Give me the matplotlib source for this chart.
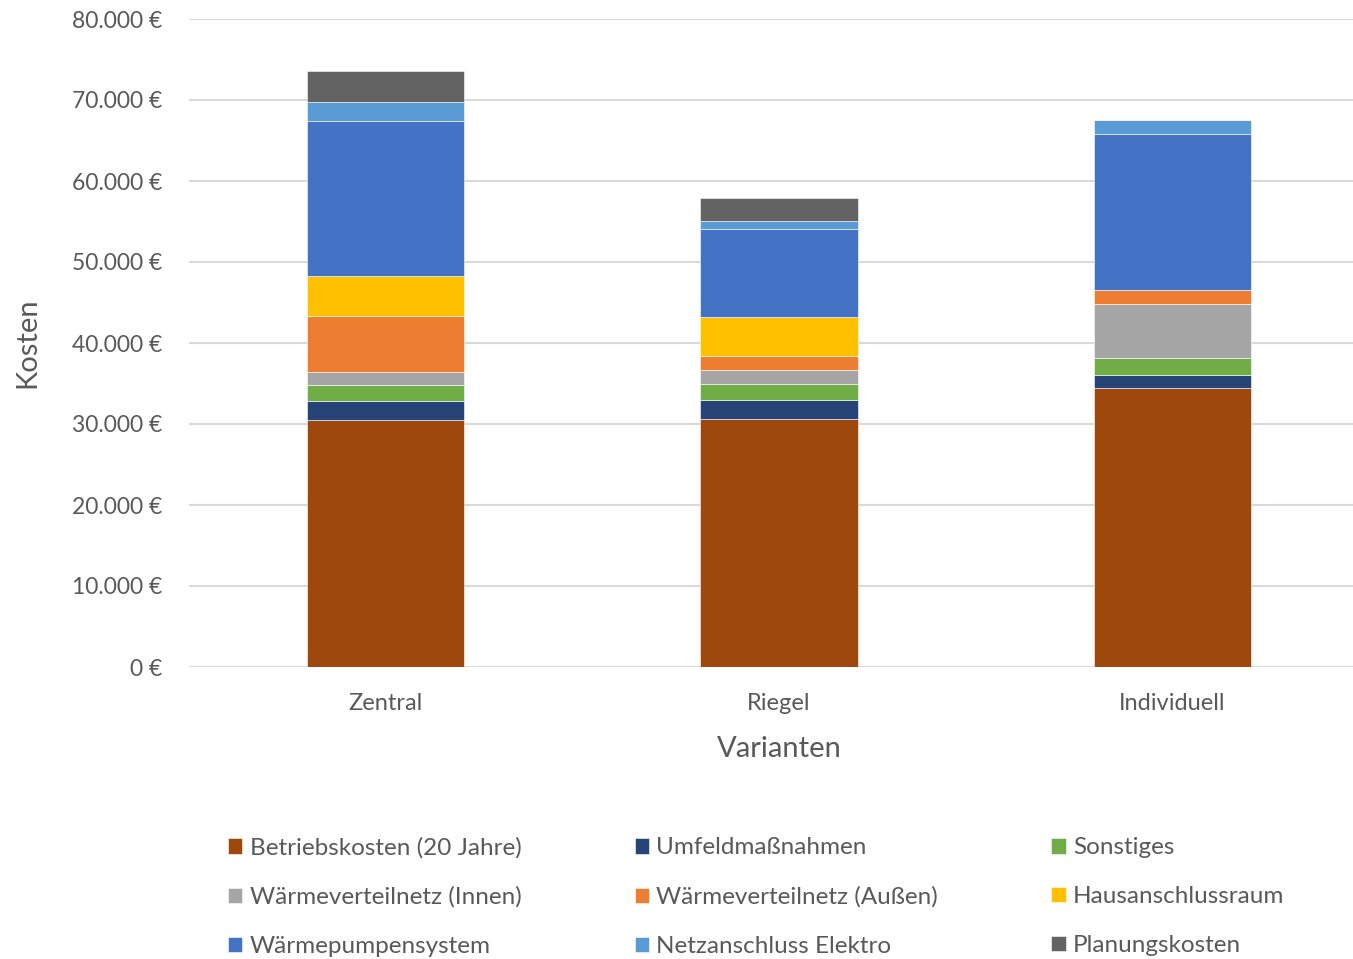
import numpy as np
import matplotlib
matplotlib.use('Agg')
import matplotlib.pyplot as plt
from matplotlib.ticker import FuncFormatter

plt.rcParams['font.family'] = ['Lato', 'DejaVu Sans']

# Kosten je Variante (in Euro)
varianten = ['Zentral', 'Riegel', 'Individuell']
kategorien = ['Betriebskosten (20 Jahre)', 'Umfeldmaßnahmen', 'Sonstiges',
              'Wärmeverteilnetz (Innen)', 'Wärmeverteilnetz (Außen)', 'Hausanschlussraum',
              'Wärmepumpensystem', 'Netzanschluss Elektro', 'Planungskosten']
betrieb = [30500, 30580, 34440]
umfeld = [2380, 2380, 1610]
sonstiges = [1900, 1940, 2140]
netz_innen = [1640, 1730, 6620]
netz_aussen = [6950, 1800, 1690]
hausanschluss = [4860, 4780, 0]
waermepumpe = [19210, 10860, 19340]
netzanschluss = [2350, 990, 1690]
planung = [3830, 2880, 0]
farben = ['#9E480E', '#264478', '#70AD47', '#A5A5A5', '#ED7D31', '#FFC000',
          '#4472C4', '#5B9BD5', '#636363']

werte = [betrieb, umfeld, sonstiges, netz_innen, netz_aussen, hausanschluss,
         waermepumpe, netzanschluss, planung]

grau = '#595959'
fig = plt.figure(figsize=(13.53, 9.59), dpi=100)
ax = fig.add_axes([189 / 1353, 1 - 667 / 959, 1180 / 1353, 648 / 959])

x = np.arange(len(varianten))
unten = np.zeros(len(varianten))
balken = []
for name, w, c in zip(kategorien, werte, farben):
    b = ax.bar(x, w, 0.4, bottom=unten, color=c, label=name,
               edgecolor='white', linewidth=0.4, zorder=3)
    balken.append(b)
    unten += np.array(w)

ax.set_xlim(-0.5, 2.5)
ax.set_ylim(0, 80000)
ax.set_yticks(np.arange(0, 80001, 10000))
ax.yaxis.set_major_formatter(FuncFormatter(lambda v, p: f'{int(v):,} €'.replace(',', '.')))
ax.grid(axis='y', color='#D9D9D9', linewidth=1.5, zorder=0)
for s in ax.spines.values():
    s.set_visible(False)
ax.tick_params(axis='both', length=0, colors=grau)
ax.tick_params(axis='y', pad=19, labelsize=16.5)
ax.tick_params(axis='x', pad=19, labelsize=17)
ax.set_xticks(x)
ax.set_xticklabels(varianten)
ax.set_ylabel('Kosten', fontsize=21, color=grau)
ax.set_xlabel('Varianten', fontsize=21, color=grau)
ax.yaxis.set_label_coords(-0.126, 0.5)
ax.xaxis.set_label_coords(0.5, -0.106)

# Legende zeilenweise wie in drei Spalten
reihenfolge = [0, 3, 6, 1, 4, 7, 2, 5, 8]
fig.legend([balken[i] for i in reihenfolge], [kategorien[i] for i in reihenfolge],
           loc='upper left', bbox_to_anchor=(206 / 1353, 1 - 815 / 959), ncol=3,
           frameon=False, fontsize=17.5, labelcolor=grau, handlelength=0.6,
           handleheight=0.6, handletextpad=0.3, columnspacing=4.65, labelspacing=1.15)

fig.savefig('out.png', dpi=100)
